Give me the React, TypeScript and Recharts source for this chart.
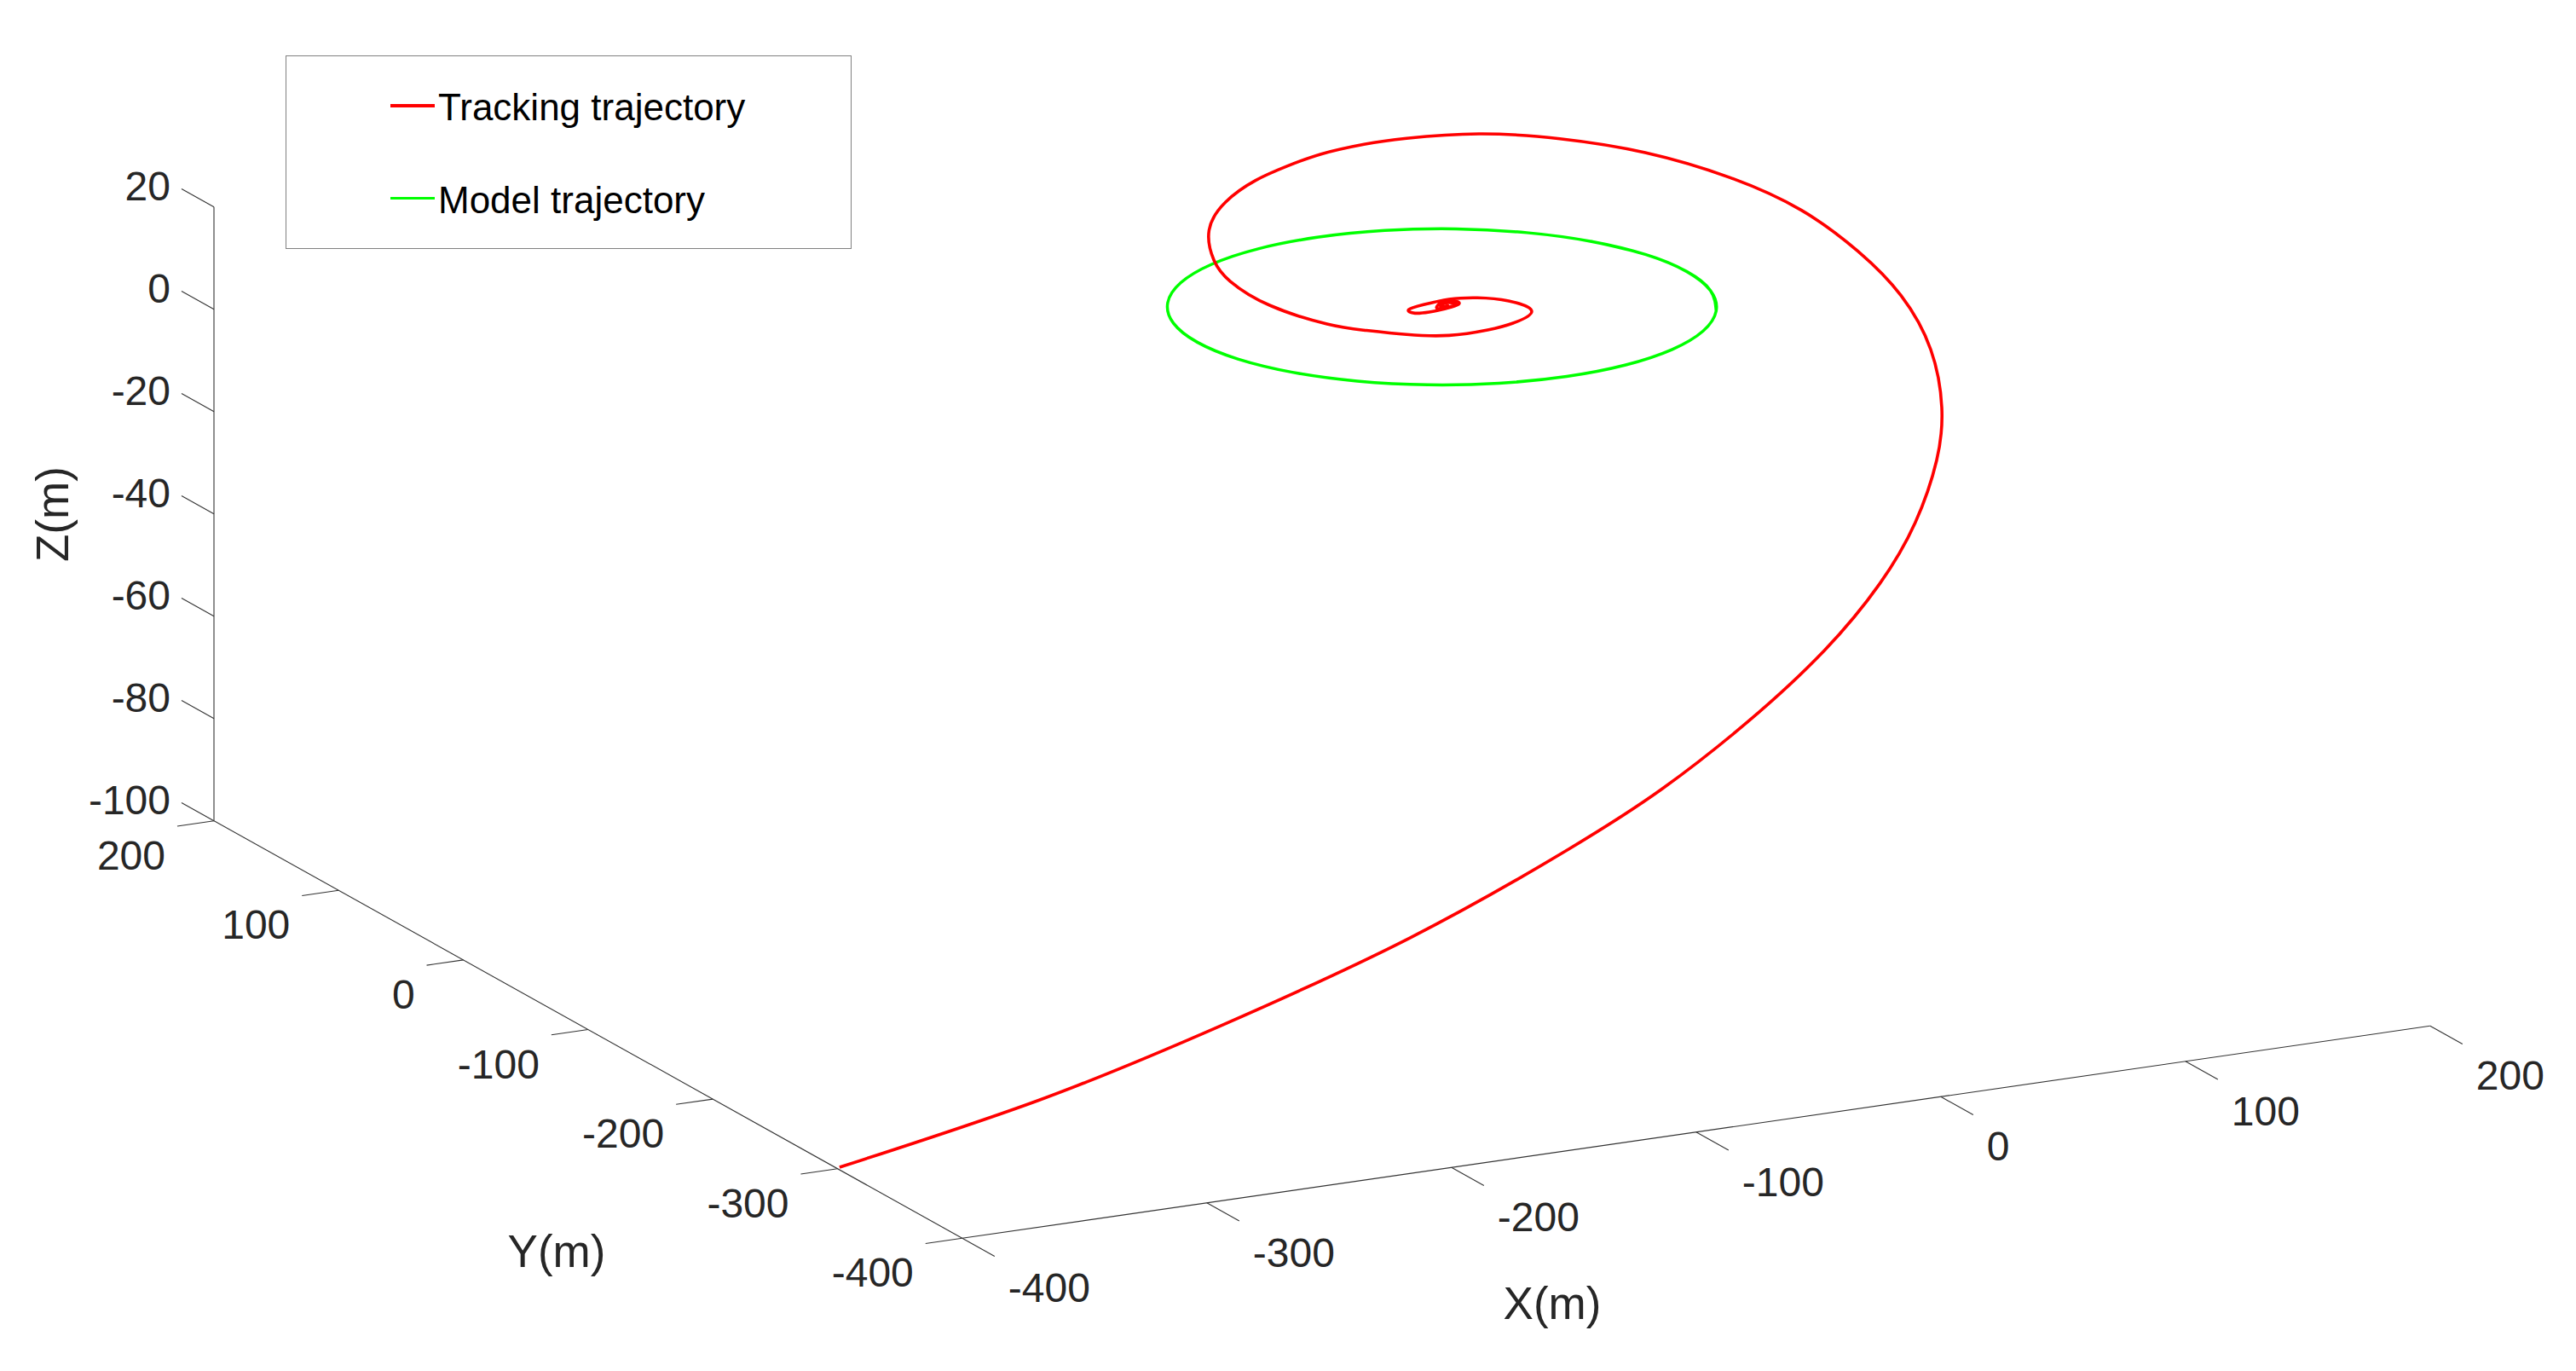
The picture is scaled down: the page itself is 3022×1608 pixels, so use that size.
import React from 'react';
import {
  ComposedChart,
  Line,
  XAxis,
  YAxis,
  Legend,
  ReferenceLine,
  ReferenceDot,
} from 'recharts';

// axis ticks (metres)
const xTicks = [-400, -300, -200, -100, 0, 100, 200];
const yTicks = [-400, -300, -200, -100, 0, 100, 200];
const zTicks = [-100, -80, -60, -40, -20, 0, 20];

// model trajectory, constant altitude
// (runs a little past one full turn so the ends of the spline stay round)
const modelX = [86.6, 96.6, 100, 96.6, 86.6, 70.7, 50, 25.9, 0, -25.9, -50, -70.7, -86.6, -96.6, -100, -96.6, -86.6, -70.7, -50, -25.9, 0, 25.9, 50, 70.7, 86.6, 96.6, 100, 96.6, 86.6];
const modelY = [-50, -25.9, 0, 25.9, 50, 70.7, 86.6, 96.6, 100, 96.6, 86.6, 70.7, 50, 25.9, 0, -25.9, -50, -70.7, -86.6, -96.6, -100, -96.6, -86.6, -70.7, -50, -25.9, 0, 25.9, 50];
const modelZ = [0, 0, 0, 0, 0, 0, 0, 0, 0, 0, 0, 0, 0, 0, 0, 0, 0, 0, 0, 0, 0, 0, 0, 0, 0, 0, 0, 0, 0];

// tracking trajectory: estimated from the red curve
const trackX = [-398.5, -330, -260.9, -187.1, -116.7, -71.9, -26.4, 19.2, 59.7, 93.4, 126.3, 151.3, 174, 189.8, 197.1, 198.2, 189.6, 172.7, 150.1, 124.6, 96.4, 78.2, 57.7, 39, 19.6, -3.3, -25.6, -42.3, -50.3, -52, -45.5, -37.4, -26.4, -13.4, 1.4, 13.6, 26.6, 25.1, 16.8, 6.7, -4.7, -12.5, -12.4, -7.1, -3.3, 3.1, 7.5, 7.7, 4.3, -1.1, -2, 2.3, 5.9, 4.7, 0.5, 0.4, 3.3];
const trackY = [-298.7, -324.9, -334.4, -341.3, -330.5, -317.8, -296.7, -268.8, -233.8, -196.2, -148.9, -104, -50.6, 4.2, 52.9, 100.5, 140.8, 175.8, 199.9, 214.7, 217.5, 215.9, 210.1, 200.7, 187.9, 167, 136.5, 99.9, 71, 35.8, 2.9, -10.8, -23.3, -32, -33.9, -30.3, -19.8, -4.3, 4.5, 7.5, 5.5, 2.2, -2.8, -3.8, -3.4, -1.7, 0.9, 4.5, 6.2, 1.7, -1.5, -1.3, 0.5, 3.6, 2, -0.2, 0.7];
const trackZ = [-100, -88, -77, -64, -53, -46, -39, -32, -26.5, -22, -18.5, -16, -13.5, -11.5, -10, -8.5, -7, -5.7, -4.7, -4, -3.3, -3, -2.7, -2.5, -2.2, -2, -1.8, -1.5, -1.2, -1, -0.6, -0.5, -0.4, -0.3, 0, 0, 0, 0, 0, 0, 0, 0, 0, 0, 0, 0, 0, 0, 0, 0, 0, 0, 0, 0, 0, 0, 0];

const WIDTH = 3022;
const HEIGHT = 1608;
const FONT = '"Liberation Sans", Arial, sans-serif';
const TEXT = '#262626';
const AXIS = '#333333';

// view of the MATLAB plot3 box, flattened to the chart plane
const project = (x: number, y: number, z: number) => ({
  sx: 1691.6 + 2.87 * x - 1.463 * y,
  sy: 959.9 - 0.415 * x - 0.816 * y - 6 * (z + 100),
});

const toPath = (xs: number[], ys: number[], zs: number[]) =>
  xs.map((x, i) => project(x, ys[i], zs[i]));

const modelData = toPath(modelX, modelY, modelZ);
const trackData = toPath(trackX, trackY, trackZ);

const axisSegment = (a: { sx: number; sy: number }, b: { sx: number; sy: number }, key: string) => (
  <ReferenceLine
    key={key}
    segment={[{ x: a.sx, y: a.sy }, { x: b.sx, y: b.sy }]}
    stroke={AXIS}
    strokeWidth={1.1}
  />
);

const label = (
  key: string,
  value: string,
  at: { sx: number; sy: number },
  anchor: 'start' | 'end' | 'middle',
  size = 48,
  rotate = 0,
) => (
  <ReferenceDot
    key={key}
    x={at.sx}
    y={at.sy}
    r={0}
    shape={(p: any) => (
      <text
        x={p.cx}
        y={p.cy}
        textAnchor={anchor}
        fontFamily={FONT}
        fontSize={size}
        fill={TEXT}
        transform={rotate ? `rotate(${rotate} ${p.cx} ${p.cy})` : undefined}
      >
        {value}
      </text>
    )}
  />
);

// red is drawn last so it crosses over the green, but it is listed first
const LegendBox = ({ payload }: any) => (
  <div
    style={{
      width: 664,
      height: 227,
      boxSizing: 'border-box',
      border: '1.5px solid #808080',
      background: '#fff',
      position: 'relative',
      fontFamily: FONT,
      fontSize: 44,
      color: '#000',
    }}
  >
    {[...(payload || [])].reverse().map((item: any, i: number) => (
      <div key={item.value}>
        <div
          style={{
            position: 'absolute',
            left: 122,
            top: 56 + i * 108.5,
            width: 52,
            height: 3.5,
            background: item.color,
          }}
        />
        <div
          style={{
            position: 'absolute',
            left: 178,
            top: 35 + i * 108.5,
            lineHeight: '50px',
            whiteSpace: 'nowrap',
          }}
        >
          {item.value}
        </div>
      </div>
    ))}
  </div>
);

export default function App() {
  const floor = -100;
  return (
    <div style={{ position: 'absolute', left: 0, top: 0, width: WIDTH, height: HEIGHT, background: '#fff' }}>
      <ComposedChart width={WIDTH} height={HEIGHT} margin={{ top: 0, right: 0, bottom: 0, left: 0 }}>
        <XAxis dataKey="sx" type="number" domain={[0, WIDTH]} hide />
        <YAxis type="number" domain={[0, HEIGHT]} reversed hide />

        {/* box edges */}
        {axisSegment(project(-400, 200, floor), project(-400, 200, 20), 'z-axis')}
        {axisSegment(project(-400, 200, floor), project(-400, -400, floor), 'y-axis')}
        {axisSegment(project(-400, -400, floor), project(200, -400, floor), 'x-axis')}

        {/* tick marks */}
        {zTicks.map((z) => axisSegment(project(-400, 200, z), project(-400, 226, z), `zt${z}`))}
        {yTicks.map((y) => axisSegment(project(-400, y, floor), project(-415, y, floor), `yt${y}`))}
        {xTicks.map((x) => axisSegment(project(x, -400, floor), project(x, -426, floor), `xt${x}`))}

        {/* tick labels */}
        {zTicks.map((z) => {
          const p = project(-400, 200, z);
          return label(`zl${z}`, String(z), { sx: p.sx - 51, sy: p.sy - 8 }, 'end');
        })}
        {yTicks.map((y) => {
          const p = project(-400, y, floor);
          return label(`yl${y}`, String(y), { sx: p.sx - 57, sy: p.sy + 57 }, 'end');
        })}
        {xTicks.map((x) => {
          const p = project(x, -400, floor);
          return label(`xl${x}`, String(x), { sx: p.sx + 54, sy: p.sy + 75 }, 'start');
        })}

        {/* axis names */}
        {label('xn', 'X(m)', { sx: 1821, sy: 1547 }, 'middle', 53)}
        {label('yn', 'Y(m)', { sx: 653, sy: 1486 }, 'middle', 53)}
        {label('zn', 'Z(m)', { sx: 80, sy: 603 }, 'middle', 53, -90)}

        <Line
          name="Model trajectory"
          data={modelData}
          dataKey="sy"
          type="natural"
          stroke="#00ff00"
          strokeWidth={3.5}
          dot={false}
          activeDot={false}
          isAnimationActive={false}
        />
        <Line
          name="Tracking trajectory"
          data={trackData}
          dataKey="sy"
          type="natural"
          stroke="#ff0000"
          strokeWidth={3.6}
          dot={false}
          activeDot={false}
          isAnimationActive={false}
        />
        <Legend
          layout="horizontal"
          verticalAlign="middle"
          align="center"
          itemSorter={null}
          content={<LegendBox />}
          wrapperStyle={{ position: 'absolute', left: 335, top: 65, width: 664, height: 227 }}
        />
      </ComposedChart>
    </div>
  );
}
